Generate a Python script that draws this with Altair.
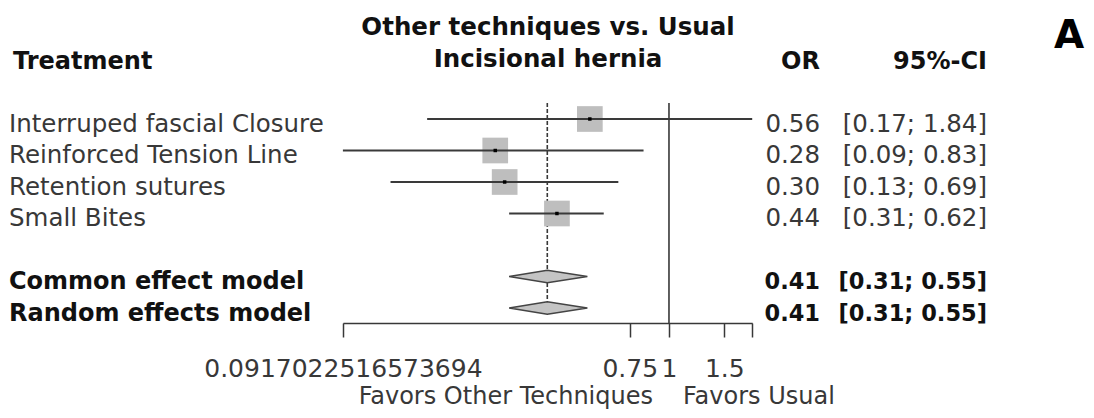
import altair as alt
import pandas as pd

# ---------------- data ----------------
studies = ["Interruped fascial Closure", "Reinforced Tension Line",
           "Retention sutures", "Small Bites"]
study_or = [0.56, 0.28, 0.30, 0.44]
study_lo = [0.17, 0.0917022516573694, 0.13, 0.31]
study_hi = [1.84, 0.83, 0.69, 0.62]
study_row = [1, 2, 3, 4]

models = ["Common effect model", "Random effects model"]
model_or = [0.41, 0.41]
model_lo = [0.31, 0.31]
model_hi = [0.55, 0.55]
model_row = [6, 7]

tick_values = [0.0917022516573694, 0.75, 1, 1.5, 1.84]
tick_labels = ["0.0917022516573694", "0.75", "1", "1.5", ""]

title_lines = ["Other techniques vs. Usual", "Incisional hernia"]
col_heads = ["Treatment", "OR", "95%-CI"]
favors = ["Favors Other Techniques", "Favors Usual"]
panel = "A"

# ---------------- tables ----------------
def fmt_ci(l, h):
    return f"[{l:.2f}; {h:.2f}]"

sdf = pd.DataFrame({
    "label": studies, "row": study_row, "est": study_or,
    "lo": study_lo, "hi": study_hi,
    "or_txt": [f"{v:.2f}" for v in study_or],
    "ci_txt": [fmt_ci(l, h) for l, h in zip(study_lo, study_hi)],
})
mdf = pd.DataFrame({
    "label": models, "row": model_row, "est": model_or,
    "lo": model_lo, "hi": model_hi,
    "or_txt": [f"{v:.2f}" for v in model_or],
    "ci_txt": [fmt_ci(l, h) for l, h in zip(model_lo, model_hi)],
})

HALF = 0.2  # diamond half height in row units
drows = []
for m, r, e, l, h in zip(models, model_row, model_or, model_lo, model_hi):
    drows.append({"model": m, "x": l, "y": r, "y2": r})
    drows.append({"model": m, "x": e, "y": r - HALF, "y2": r + HALF})
    drows.append({"model": m, "x": h, "y": r, "y2": r})
ddf = pd.DataFrame(drows)

# ---------------- scales ----------------
FONT = "DejaVu Sans"
INK = "#383838"
DARK = "#111111"
GRAY = "#bebebe"

xlo = min(study_lo)
xhi = max(study_hi)
xscale = alt.Scale(type="log", domain=[xlo, xhi], range=[334.9, 744.2],
                   nice=False, zero=False)
yscale = alt.Scale(domain=[0, 10], range=[79.5, 394.5], nice=False, zero=False)

expr = "''"
for v, t in reversed(list(zip(tick_values, tick_labels))):
    expr = f"(datum.value == {v!r} ? '{t}' : {expr})"

xaxis = alt.Axis(values=tick_values, labelExpr=expr, title=None, grid=False,
                 labelOverlap=False, labelFlush=False, labelLimit=0,
                 labelFont=FONT, labelFontSize=25, labelColor=INK,
                 tickColor=INK, domainColor=INK, tickSize=14, tickWidth=1.5,
                 domainWidth=1.5, labelBaseline="alphabetic", labelPadding=39)

def X(field):
    return alt.X(field, type="quantitative", scale=xscale, axis=xaxis)

def Y(field):
    return alt.Y(field, type="quantitative", scale=yscale, axis=None)

# ---------------- layers ----------------
ref_line = alt.Chart(pd.DataFrame({"v": [1]})).mark_rule(
    color=INK, strokeWidth=1.6).encode(
    x=X("v"), y=alt.value(95), y2=alt.value(315))

dash_line = alt.Chart(pd.DataFrame({"v": [model_or[0]]})).mark_rule(
    color=INK, strokeWidth=1.6, strokeDash=[4, 2]).encode(
    x=X("v"), y=alt.value(95), y2=alt.value(293))

boxes = alt.Chart(sdf).mark_square(size=660, color=GRAY, opacity=1).encode(
    x=X("est"), y=Y("row"))

ci = alt.Chart(sdf).mark_rule(color="#3a3a3a", strokeWidth=1.9).encode(
    x=X("lo"), x2="hi", y=Y("row"))

dots = alt.Chart(sdf).mark_square(size=12, color="black", opacity=1).encode(
    x=X("est"), y=Y("row"))

diamonds = alt.Chart(ddf).mark_area(
    orient="vertical", fill="#c4c4c4", stroke="#444444", strokeWidth=1.4,
    opacity=1).encode(
    x=X("x"), y=Y("y"), y2="y2", detail="model:N")

def row_text(df, field, xpos, align, bold, size=24.5):
    return alt.Chart(df).mark_text(
        align=align, baseline="alphabetic", dy=12.5, font=FONT, fontSize=size,
        fontWeight="bold" if bold else "normal",
        color=DARK if bold else INK).encode(
        x=alt.value(xpos), y=Y("row"), text=f"{field}:N")

def label(text, xpos, ypos, size=24, bold=False, align="left", color=None):
    return alt.Chart(pd.DataFrame({"t": [text]})).mark_text(
        align=align, baseline="alphabetic", font=FONT, fontSize=size,
        fontWeight="bold" if bold else "normal",
        color=color or (DARK if bold else INK)).encode(
        x=alt.value(xpos), y=alt.value(ypos), text="t:N")

layers = [
    ref_line, dash_line, boxes, ci, dots, diamonds,
    row_text(sdf, "label", 1, "left", False),
    row_text(sdf, "or_txt", 812, "right", False),
    row_text(sdf, "ci_txt", 979, "right", False),
    row_text(mdf, "label", 1, "left", True, size=24),
    row_text(mdf, "or_txt", 812, "right", True, size=22.5),
    row_text(mdf, "ci_txt", 979, "right", True, size=22.5),
    label(title_lines[0], 540, 27, size=24.5, bold=True, align="center"),
    label(title_lines[1], 540, 59, size=24.5, bold=True, align="center"),
    label(col_heads[0], 5, 61, bold=True),
    label(col_heads[1], 812, 61, bold=True, align="right"),
    label(col_heads[2], 979, 61, bold=True, align="right"),
    label(favors[0], 645, 396, size=24, align="right"),
    label(favors[1], 675, 396, size=24, align="left"),
    label(panel, 1061, 40, size=39, bold=True, align="center", color="#000000"),
]

chart = alt.layer(*layers).properties(
    width=1078, height=315,
    padding={"left": 0, "right": 0, "top": 0, "bottom": 87},
    autosize=alt.AutoSizeParams(type="none"),
    background="white",
).configure_view(stroke=None)

chart.save("out.html", embed_options={"renderer": "svg", "actions": False})
